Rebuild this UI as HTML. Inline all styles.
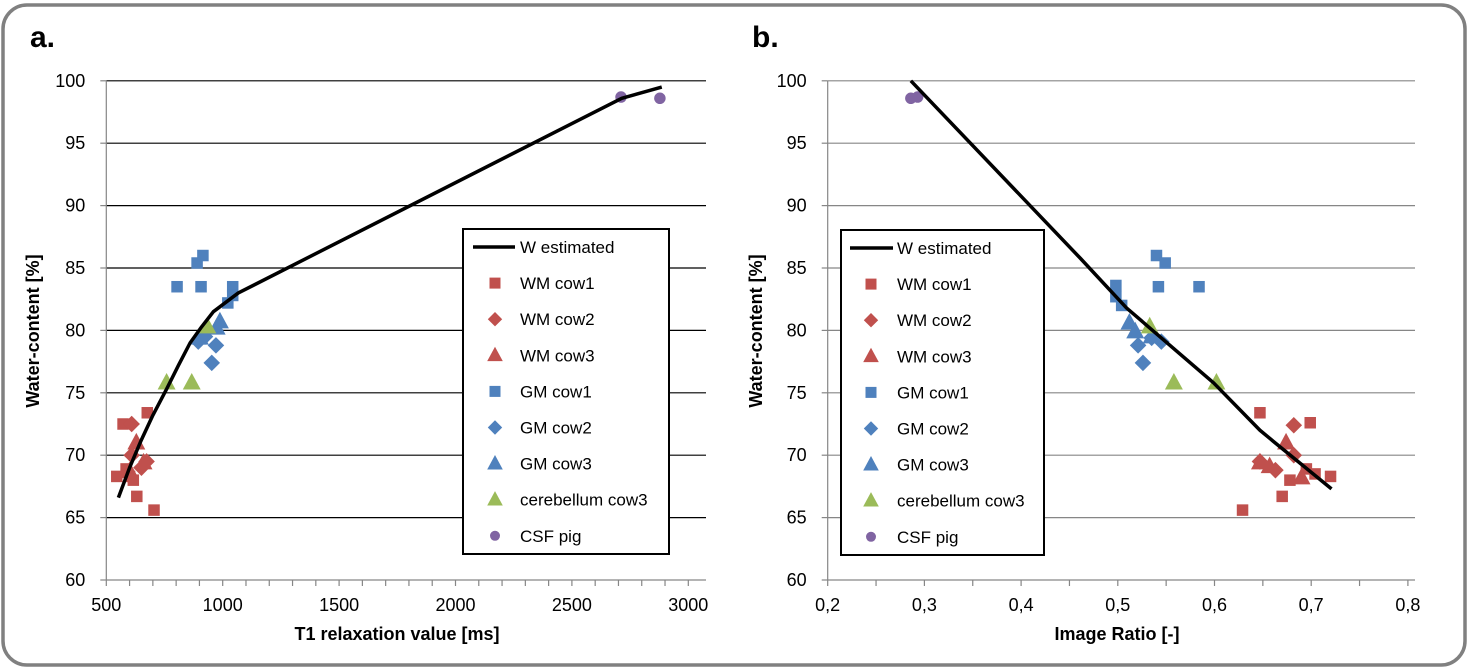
<!DOCTYPE html>
<html><head><meta charset="utf-8"><style>
html,body{margin:0;padding:0;background:#fff;}
svg{display:block;font-family:"Liberation Sans",Calibri,sans-serif;}
</style></head><body>
<svg id="chart" width="1469" height="668" viewBox="0 0 1469 668" xmlns="http://www.w3.org/2000/svg">
<rect x="3" y="5" width="1462" height="660" rx="24" ry="24" fill="#fff" stroke="#808080" stroke-width="3.5"/>
<text x="30" y="47" font-size="30" font-weight="bold" fill="#000">a.</text>
<text x="752" y="47" font-size="30" font-weight="bold" fill="#000">b.</text>
<g id="pa"></g>
<g id="pb"></g>
</svg>
<script>
// ---- Panel a data (T1 [ms], Water-content [%]) ----
const aLineX=[552,600,650,700,759,810,860,910,960,1067,2714,2886];
const aLineY=[66.6,69.0,71.2,73.2,75.3,77.2,79.0,80.3,81.5,83.0,98.6,99.5];
const aWM1x=[545,572,585,600,616,631,705,676];
const aWM1y=[68.3,72.5,68.9,68.3,68.0,66.7,65.6,73.4];
const aWM2x=[609,609,673,651];
const aWM2y=[72.5,70.0,69.5,69.0];
const aWM3x=[629,660,600];
const aWM3y=[71.0,69.4,68.7];
const aGM1x=[804,890,915,907,1043,1043,1022];
const aGM1y=[83.5,85.4,86.0,83.5,83.5,82.8,82.2];
const aGM2x=[895,971,953,924];
const aGM2y=[79.1,78.8,77.4,79.5];
const aGM3x=[988,974,902];
const aGM3y=[80.7,80.2,79.4];
const aCBx=[759,867,934];
const aCBy=[75.8,75.8,80.3];
const aCSFx=[2711,2878];
const aCSFy=[98.7,98.6];
const aXTicks=[500,1000,1500,2000,2500,3000];
// ---- Panel b data (Image Ratio, Water-content [%]) ----
const bLineX=[0.286,0.461,0.509,0.599,0.647,0.661,0.721];
const bLineY=[100,85.8,81.8,75.8,72.0,71.1,67.3];
const bWM1x=[0.647,0.699,0.629,0.670,0.678,0.695,0.704,0.720];
const bWM1y=[73.4,72.6,65.6,66.7,68.0,68.9,68.5,68.3];
const bWM2x=[0.682,0.682,0.663,0.647];
const bWM2y=[72.4,70.0,68.8,69.5];
const bWM3x=[0.674,0.647,0.657,0.690];
const bWM3y=[71.0,69.4,69.1,68.2];
const bGM1x=[0.540,0.549,0.542,0.584,0.498,0.498,0.504];
const bGM1y=[86.0,85.4,83.5,83.5,83.6,82.7,82.0];
const bGM2x=[0.545,0.521,0.526,0.535];
const bGM2y=[79.1,78.8,77.4,79.4];
const bGM3x=[0.512,0.518,0.535];
const bGM3y=[80.6,79.9,79.5];
const bCBx=[0.533,0.558,0.602];
const bCBy=[80.3,75.8,75.8];
const bCSFx=[0.286,0.293];
const bCSFy=[98.6,98.7];
const bXTicks=["0,2","0,3","0,4","0,5","0,6","0,7","0,8"];
const bXVals=[0.2,0.3,0.4,0.5,0.6,0.7,0.8];
const yTicks=[60,65,70,75,80,85,90,95,100];
const legendLabels=["W estimated","WM cow1","WM cow2","WM cow3","GM cow1","GM cow2","GM cow3","cerebellum cow3","CSF pig"];

const NS="http://www.w3.org/2000/svg";
const RED="#C0504D",BLUE="#4F81BD",GREEN="#9BBB59",PURP="#8064A2";
function mk(parent,tag,attrs){const e=document.createElementNS(NS,tag);for(const k in attrs)e.setAttribute(k,attrs[k]);parent.appendChild(e);return e;}
const yS=v=>580-(v-60)*12.48;
const xA=v=>106.3+(v-500)*116.4/500;
const xB=v=>827.7+(v-0.2)*967;

function marker(g,shape,color,cx,cy,s){
  let e;
  if(shape==="sq"){e=mk(g,"rect",{x:cx-s/2,y:cy-s/2,width:s,height:s,fill:color});}
  else if(shape==="di"){const r=s*0.72;e=mk(g,"polygon",{points:`${cx},${cy-r} ${cx+r},${cy} ${cx},${cy+r} ${cx-r},${cy}`,fill:color});}
  else if(shape==="tr"){const r=s*0.78;e=mk(g,"polygon",{points:`${cx},${cy-r*1.1} ${cx+r},${cy+r*0.75} ${cx-r},${cy+r*0.75}`,fill:color});}
  else {e=mk(g,"circle",{cx:cx,cy:cy,r:s*0.5,fill:color});}
  return e;
}

function panel(g,o){
  const x0=o.x0,x1=o.x1;
  yTicks.forEach(v=>{if(v===60)return;const l=mk(g,"line",{x1:x0,x2:x1,y1:yS(v),y2:yS(v),stroke:o.grid,"stroke-width":1.2});
    
    });
  mk(g,"line",{x1:x0,x2:x0,y1:yS(100),y2:580,stroke:"#868686","stroke-width":1.2});
  mk(g,"line",{x1:x0,x2:x1,y1:580,y2:580,stroke:"#868686","stroke-width":1.2});
  yTicks.forEach(v=>{mk(g,"line",{x1:x0-6,x2:x0,y1:yS(v),y2:yS(v),stroke:"#868686","stroke-width":1.2});
    const t=mk(g,"text",{x:x0-21,y:yS(v)+6,"text-anchor":"end","font-size":18,fill:"#000"});t.textContent=v;
    
    });
  o.minor.forEach(v=>{mk(g,"line",{x1:o.xs(v),x2:o.xs(v),y1:580,y2:586,stroke:"#868686","stroke-width":1.2});});
  o.ticks.forEach((v,i)=>{const t=mk(g,"text",{x:o.xs(o.tv[i]),y:611,"text-anchor":"middle","font-size":18,fill:"#000"});t.textContent=v;
    
    });
  const xt=mk(g,"text",{x:o.xtx,y:640,"text-anchor":"middle","font-size":18,"font-weight":"bold",fill:"#000"});xt.textContent=o.xtitle;
  
  
  const yt=mk(g,"text",{x:0,y:0,"text-anchor":"middle","font-size":18,"font-weight":"bold",fill:"#000",transform:`translate(${o.ytx},331) rotate(-90)`});yt.textContent="Water-content [%]";
  
  
  const series=o.series;
  series.forEach(s=>{const sg=mk(g,"g",{});
    
    
    s.x.forEach((v,i)=>{const m=marker(sg,s.shape,s.color,o.xs(v),yS(s.y[i]),11.5);
      
      });});
  const pts=o.lx.map((v,i)=>o.xs(v)+","+yS(o.ly[i])).join(" ");
  const pl=mk(g,"polyline",{points:pts,fill:"none",stroke:"#000","stroke-width":3.5,"stroke-linejoin":"round"});
  
  
  const L=o.leg;
  const lg=mk(g,"g",{});
  
  
  mk(lg,"rect",{x:L.x,y:L.y,width:L.w,height:L.h,fill:"#fff",stroke:"#000","stroke-width":2});
  legendLabels.forEach((lab,i)=>{const cy=L.y+18+i*36.1;
    const eg=mk(lg,"g",{});
    
    
    if(i===0){mk(eg,"line",{x1:L.l1,x2:L.l2,y1:cy,y2:cy,stroke:"#000","stroke-width":3.5});}
    else{const s=series[i-1];marker(eg,s.shape,s.color,L.mx,cy,s.shape==="sq"?11:10);}
    const t=mk(eg,"text",{x:L.tx,y:cy+6,"font-size":17,fill:"#000"});t.textContent=lab;});
}
function mkSeries(d){const names=["wm-cow1","wm-cow2","wm-cow3","gm-cow1","gm-cow2","gm-cow3","cerebellum-cow3","csf-pig"];
  const shapes=["sq","di","tr","sq","di","tr","tr","ci"];const cols=[RED,RED,RED,BLUE,BLUE,BLUE,GREEN,PURP];
  return names.map((n,i)=>({name:n,shape:shapes[i],color:cols[i],x:d[i][0],y:d[i][1]}));}

const minorA=[];for(let v=500;v<=3000;v+=100)minorA.push(v);
const minorB=[];for(let v=0;v<=12;v++)minorB.push(0.2+v*0.05);
panel(document.getElementById("pa"),{x0:106.3,x1:706,xs:xA,grid:"#000",minor:minorA,ticks:aXTicks,tv:aXTicks,
  xtitle:"T1 relaxation value [ms]",xtx:397,ytx:39,lx:aLineX,ly:aLineY,
  series:mkSeries([[aWM1x,aWM1y],[aWM2x,aWM2y],[aWM3x,aWM3y],[aGM1x,aGM1y],[aGM2x,aGM2y],[aGM3x,aGM3y],[aCBx,aCBy],[aCSFx,aCSFy]]),
  leg:{x:463,y:229,w:206,h:325,l1:473,l2:515,mx:495,tx:520}});
panel(document.getElementById("pb"),{x0:827.7,x1:1415,xs:xB,grid:"#868686",minor:minorB,ticks:bXTicks,tv:bXVals,
  xtitle:"Image Ratio [-]",xtx:1117,ytx:762,lx:bLineX,ly:bLineY,
  series:mkSeries([[bWM1x,bWM1y],[bWM2x,bWM2y],[bWM3x,bWM3y],[bGM1x,bGM1y],[bGM2x,bGM2y],[bGM3x,bGM3y],[bCBx,bCBy],[bCSFx,bCSFy]]),
  leg:{x:841,y:230,w:203,h:325,l1:850,l2:893,mx:871,tx:897}});
</script>
</body></html>
